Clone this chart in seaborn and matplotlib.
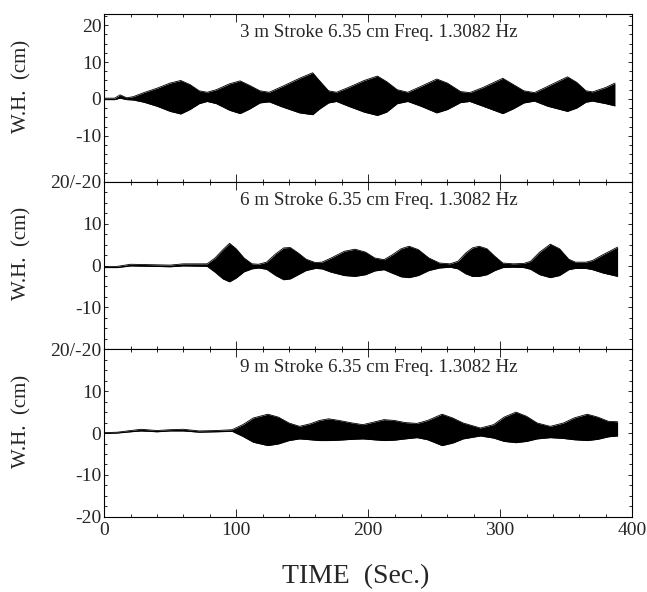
import numpy as np
import pandas as pd
import matplotlib
matplotlib.use('Agg')
import matplotlib.pyplot as plt
from matplotlib.ticker import MultipleLocator
import seaborn as sns

sns.set_style('ticks')
plt.rcParams['font.family'] = ['Liberation Serif', 'DejaVu Serif']

# envelope of the wave height record (time s, upper cm, lower cm)
t_3m = [0, 8, 12, 17, 22, 30, 40, 50, 58, 65, 72, 78, 85, 95, 103, 110, 118, 125,
        135, 148, 158, 163, 170, 176, 185, 197, 207, 214, 222, 230, 240, 252, 260,
        270, 277, 287, 302, 310, 318, 326, 336, 351, 358, 365, 370, 380, 387]
up_3m = [0.2, 0.2, 1.1, 0.3, 0.6, 1.7, 2.9, 4.3, 5.0, 3.9, 2.2, 1.8, 2.5, 4.1, 4.9, 3.7, 2.2, 1.8,
         3.4, 5.6, 7.1, 5.0, 2.2, 1.8, 3.1, 5.0, 6.2, 4.7, 2.5, 1.8, 3.4, 5.4, 4.3,
         2.0, 1.7, 3.1, 5.6, 3.9, 2.2, 1.7, 3.4, 6.0, 4.5, 2.2, 1.9, 3.1, 4.3]
lo_3m = [-0.2, -0.2, 0.2, -0.2, -0.3, -0.9, -2.0, -3.4, -4.1, -2.9, -1.3, -0.7, -1.3, -3.1, -4.0, -2.8, -1.1, -0.8,
         -2.2, -3.8, -4.3, -2.8, -1.1, -0.7, -2.0, -3.6, -4.5, -3.6, -1.3, -0.7, -2.0, -3.8, -2.9,
         -1.0, -0.7, -2.0, -4.0, -2.7, -1.1, -0.6, -2.0, -3.4, -2.5, -0.9, -0.6, -1.3, -1.9]

t_6m = [0, 10, 20, 35, 50, 60, 78, 84, 90, 95, 100, 106, 112, 117, 123, 130, 136, 141,
        147, 153, 160, 165, 172, 182, 190, 198, 205, 212, 218, 225, 231, 238, 246, 254,
        262, 268, 274, 279, 284, 290, 296, 302, 310, 318, 323, 330, 338, 345, 352, 357,
        365, 370, 378, 389]
up_6m = [-0.3, -0.2, 0.3, 0.2, 0.1, 0.4, 0.4, 1.8, 3.8, 5.3, 4.0, 1.8, 0.4, 0.3, 0.8, 2.8, 4.2, 4.3,
         3.0, 1.5, 0.7, 0.8, 1.8, 3.4, 3.9, 3.2, 1.8, 1.4, 2.5, 4.0, 4.6, 3.8, 1.8, 0.6,
         0.4, 1.0, 3.0, 4.2, 4.6, 4.0, 2.2, 0.6, 0.4, 0.5, 1.0, 3.2, 5.1, 4.0, 1.5, 0.8,
         0.8, 1.2, 2.6, 4.4]
lo_6m = [-0.5, -0.5, -0.1, -0.2, -0.3, -0.1, -0.2, -1.6, -3.2, -3.9, -3.0, -1.5, -0.8, -0.6, -0.9, -2.4, -3.4, -3.2,
         -2.2, -1.2, -0.7, -0.8, -1.6, -2.4, -2.6, -2.2, -1.3, -1.0, -1.8, -2.7, -2.9, -2.4, -1.2, -0.6,
         -0.4, -0.8, -2.0, -2.6, -2.6, -2.2, -1.2, -0.5, -0.4, -0.5, -0.9, -2.2, -2.9, -2.4, -1.0, -0.7,
         -0.7, -1.0, -1.8, -2.6]

t_9m = [0, 10, 20, 28, 40, 50, 60, 72, 85, 97, 105, 113, 124, 132, 140, 148, 156, 163,
        170, 178, 188, 196, 204, 212, 220, 228, 237, 245, 256, 264, 272, 285, 295, 303,
        312, 320, 328, 338, 348, 356, 366, 374, 382, 389]
up_9m = [0.1, 0.2, 0.6, 0.9, 0.6, 0.8, 0.9, 0.5, 0.6, 0.8, 2.0, 3.6, 4.5, 3.8, 2.4, 1.6, 2.2, 3.0,
         3.4, 3.0, 2.4, 2.0, 2.6, 3.2, 3.0, 2.5, 2.3, 3.0, 4.5, 3.6, 2.4, 1.2, 2.0, 3.8,
         5.0, 4.0, 2.4, 1.6, 2.4, 3.6, 4.5, 3.8, 2.8, 2.7]
lo_9m = [-0.1, 0.0, 0.3, 0.5, 0.3, 0.5, 0.5, 0.2, 0.3, 0.4, -0.8, -2.2, -3.0, -2.6, -1.8, -1.4, -1.6, -1.8,
         -1.8, -1.7, -1.5, -1.4, -1.6, -1.8, -1.7, -1.4, -1.1, -1.6, -3.0, -2.4, -1.4, -0.7, -1.2, -2.0,
         -2.3, -2.0, -1.4, -1.1, -1.3, -1.6, -1.8, -1.5, -0.9, -0.7]

labels = ['3 m Stroke 6.35 cm Freq. 1.3082 Hz',
          '6 m Stroke 6.35 cm Freq. 1.3082 Hz',
          '9 m Stroke 6.35 cm Freq. 1.3082 Hz']
records = [(t_3m, up_3m, lo_3m), (t_6m, up_6m, lo_6m), (t_9m, up_9m, lo_9m)]
ytick_vals = [[20, 10, 0, -10], [20, 10, 0, -10], [20, 10, 0, -10, -20]]
ytick_text = [['20', '10', '0', '-10'], ['20/-20', '10', '0', '-10'],
              ['20/-20', '10', '0', '-10', '-20']]
ylims = [(-22.5, 23), (-20, 20), (-20, 20)]
xticks = [0, 100, 200, 300, 400]

fig = plt.figure(figsize=(6.47, 5.92), dpi=100)
gs = fig.add_gridspec(3, 1, left=0.161, right=0.977, top=0.976, bottom=0.127, hspace=0)
axes = [fig.add_subplot(gs[i]) for i in range(3)]

for i, ax in enumerate(axes):
    t, up, lo = records[i]
    df = pd.DataFrame({'t': t + t, 'wh': up + lo,
                       'edge': ['upper'] * len(t) + ['lower'] * len(t)})
    ax.fill_between(t, lo, up, color='black', linewidth=0)
    sns.lineplot(data=df, x='t', y='wh', units='edge', estimator=None,
                 color='black', linewidth=0.6, ax=ax)
    ax.set_xlim(0, 400)
    ax.set_ylim(*ylims[i])
    ax.set_xlabel('')
    ax.set_ylabel('')
    ax.set_yticks(ytick_vals[i])
    ax.set_yticklabels(ytick_text[i], fontsize=14)
    ax.yaxis.set_minor_locator(MultipleLocator(2.5))
    ax.xaxis.set_minor_locator(MultipleLocator(20))
    ax.set_xticks(xticks)
    ax.tick_params(which='both', direction='in', top=True, right=True, width=0.7)
    ax.tick_params(which='major', length=6)
    ax.tick_params(which='minor', length=2.5)
    ax.tick_params(axis='y', which='major', length=3)
    ax.tick_params(axis='y', labelright=False, pad=2)
    for s in ax.spines.values():
        s.set_linewidth(0.8)
        s.set_color('black')
    ax.text(0.52, 0.89, labels[i], transform=ax.transAxes, ha='center', va='center',
            fontsize=13.7)
    if i < 2:
        ax.tick_params(axis='x', labelbottom=False)
    else:
        ax.set_xticklabels([str(v) for v in xticks], fontsize=14)
    pos = ax.get_position()
    fig.text(0.034, pos.y0 + pos.height * 0.57, 'W.H.  (cm)', rotation=90,
             ha='center', va='center', fontsize=15)

fig.text(0.549, 0.026, 'TIME  (Sec.)', ha='center', va='center', fontsize=20)

fig.savefig('out.png', dpi=100)
